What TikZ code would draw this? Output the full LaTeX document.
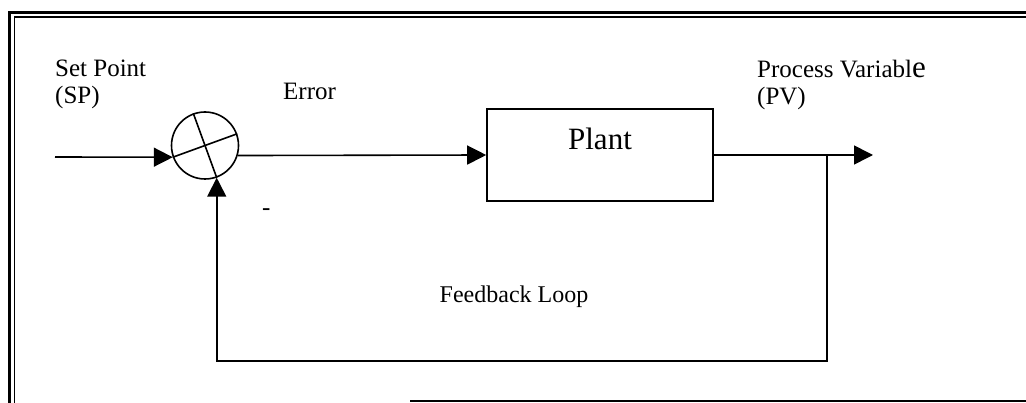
\documentclass[tikz,border=0pt]{standalone}
\usepackage{fontspec}
\setmainfont{Liberation Serif}
\usetikzlibrary{arrows.meta}
\begin{document}
\begin{tikzpicture}[x=1pt,y=-1pt,
  wire/.style={line width=1.6pt},
  flow/.style={wire,-{Triangle[length=19pt,width=19pt]}},
  lbl/.style={font=\fontsize{25pt}{30pt}\selectfont, inner sep=0pt, anchor=base west},
  block/.style={draw, line width=1.6pt, minimum width=226pt, minimum height=92pt, inner sep=0pt},
  junction/.style={draw, circle, line width=1.6pt, minimum size=67pt, inner sep=0pt}]
\useasboundingbox (0,0) rectangle (1026,403);

% page frame (double rule on top and left, single rule at the bottom)
\draw[line width=2.2pt] (9.5,403) -- (9.5,12.5) -- (1026,12.5);
\draw[line width=1.6pt] (14.5,403) -- (14.5,17) -- (1026,17);
\draw[line width=2pt] (410,401.5) -- (1026,401.5);

% summing junction with a tilted cross
\node[junction] (sum) at (205,145.5) {};
\draw[wire] (sum.110) -- (sum.290);
\draw[wire] (sum.200) -- (sum.20);

% plant block
\node[block] (plant) at (600,155) {};
\node[font=\fontsize{31pt}{36pt}\selectfont, inner sep=0pt, anchor=base] (plantname) at (600,150) {Plant};

% signal path
\coordinate (spin) at (55,157);
\coordinate (pvout) at (873,155);
\coordinate (tap) at (827,155);
\coordinate (fbcorner) at (827,361);
\draw[flow] (spin) -- (sum.200);
\draw[flow] (sum.343) -- (plant.west);
\draw[flow] (plant.east) -- (pvout);
\draw[flow] (tap) -- (fbcorner) -| (sum.290);

% labels
\node[lbl] (sp1) at (55,77) {Set Point};
\node[lbl] (sp2) at (55,104) {(SP)};
\node[lbl] (err) at (283,100) {Error};
\node[lbl] (pv1) at (757,78) {Process Variabl{\fontsize{31pt}{31pt}\selectfont e}};
\node[lbl] (pv2) at (757,105) {(PV)};
\node[lbl] (minus) at (262,216) {-};
\node[font=\fontsize{24pt}{29pt}\selectfont, inner sep=0pt, anchor=base] (fblabel) at (514,303) {Feedback Loop};
\end{tikzpicture}
\end{document}
